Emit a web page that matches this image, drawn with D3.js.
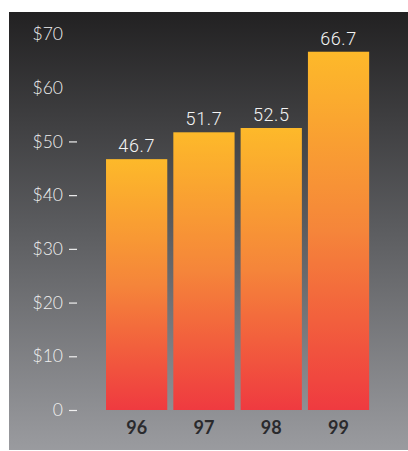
<!DOCTYPE html>
<html><head><meta charset="utf-8">
<script src="https://cdn.jsdelivr.net/npm/d3@7"></script>
<style>html,body{margin:0;padding:0;background:#fff;}svg{display:block;}</style>
</head><body>
<script>
const categories = ["96", "97", "98", "99"];
const values = [46.7, 51.7, 52.5, 66.7];
const valueLabels = ["46.7", "51.7", "52.5", "66.7"];
const tickValues = [0, 10, 20, 30, 40, 50, 60, 70];
const tickLabels = ["0", "$10", "$20", "$30", "$40", "$50", "$60", "$70"];
const dashedTicks = [0, 10, 20, 30, 40, 50];

const W = 408, H = 451;
const svg = d3.select("body").append("svg").attr("width", W).attr("height", H);
const defs = svg.append("defs");
const bg = defs.append("linearGradient").attr("id", "bg").attr("x1", 0).attr("y1", 0).attr("x2", 0).attr("y2", 1);
bg.append("stop").attr("offset", "0%").attr("stop-color", "#222122");
bg.append("stop").attr("offset", "50%").attr("stop-color", "#5c5d60");
bg.append("stop").attr("offset", "100%").attr("stop-color", "#9a9b9f");
const bar = defs.append("linearGradient").attr("id", "bar").attr("x1", 0).attr("y1", 0).attr("x2", 0).attr("y2", 1);
bar.append("stop").attr("offset", "0%").attr("stop-color", "#fdb92a");
bar.append("stop").attr("offset", "50%").attr("stop-color", "#f5853a");
bar.append("stop").attr("offset", "100%").attr("stop-color", "#ef3a40");

svg.append("rect").attr("x", 9).attr("y", 12).attr("width", W - 9).attr("height", 438).attr("fill", "url(#bg)");

const y = d3.scaleLinear().domain([0, 70]).range([410, 34]);
const x = d3.scaleBand().domain(categories).range([103, 372.2]).paddingInner(0.09).paddingOuter(0.045);

// y labels
svg.append("g").selectAll("text").data(tickValues).join("text")
  .attr("x", 63).attr("y", d => y(d)).attr("dy", "0.35em")
  .attr("text-anchor", "end")
  .attr("font-family", "Lato, sans-serif").attr("font-weight", 300)
  .attr("font-size", 17.5).attr("fill", "#f0f0f0")
  .text((d, i) => tickLabels[i]);
svg.append("g").selectAll("line").data(dashedTicks).join("line")
  .attr("x1", 69).attr("x2", 77).attr("y1", d => y(d) + 0.5).attr("y2", d => y(d) + 0.5)
  .attr("stroke", "#f0f0f0").attr("stroke-width", 1.2);

// bars
svg.append("g").selectAll("rect").data(values).join("rect")
  .attr("x", (d, i) => x(categories[i]))
  .attr("width", x.bandwidth())
  .attr("y", d => y(d))
  .attr("height", d => y(0) - y(d))
  .attr("fill", "url(#bar)");

// value labels
svg.append("g").selectAll("text").data(values).join("text")
  .attr("x", (d, i) => x(categories[i]) + x.bandwidth() / 2)
  .attr("y", d => y(d) - 7)
  .attr("text-anchor", "middle")
  .attr("font-family", "Roboto, sans-serif").attr("font-weight", 300)
  .attr("font-size", 18).attr("fill", "#f4f4f4").attr("letter-spacing", 0.6)
  .text((d, i) => valueLabels[i]);

// category labels
svg.append("g").selectAll("text").data(categories).join("text")
  .attr("x", d => x(d) + x.bandwidth() / 2)
  .attr("y", 434)
  .attr("text-anchor", "middle")
  .attr("font-family", "Lato, sans-serif").attr("font-weight", 700)
  .attr("font-size", 18).attr("fill", "#2a2a2d")
  .text(d => d);
</script>
</body></html>
